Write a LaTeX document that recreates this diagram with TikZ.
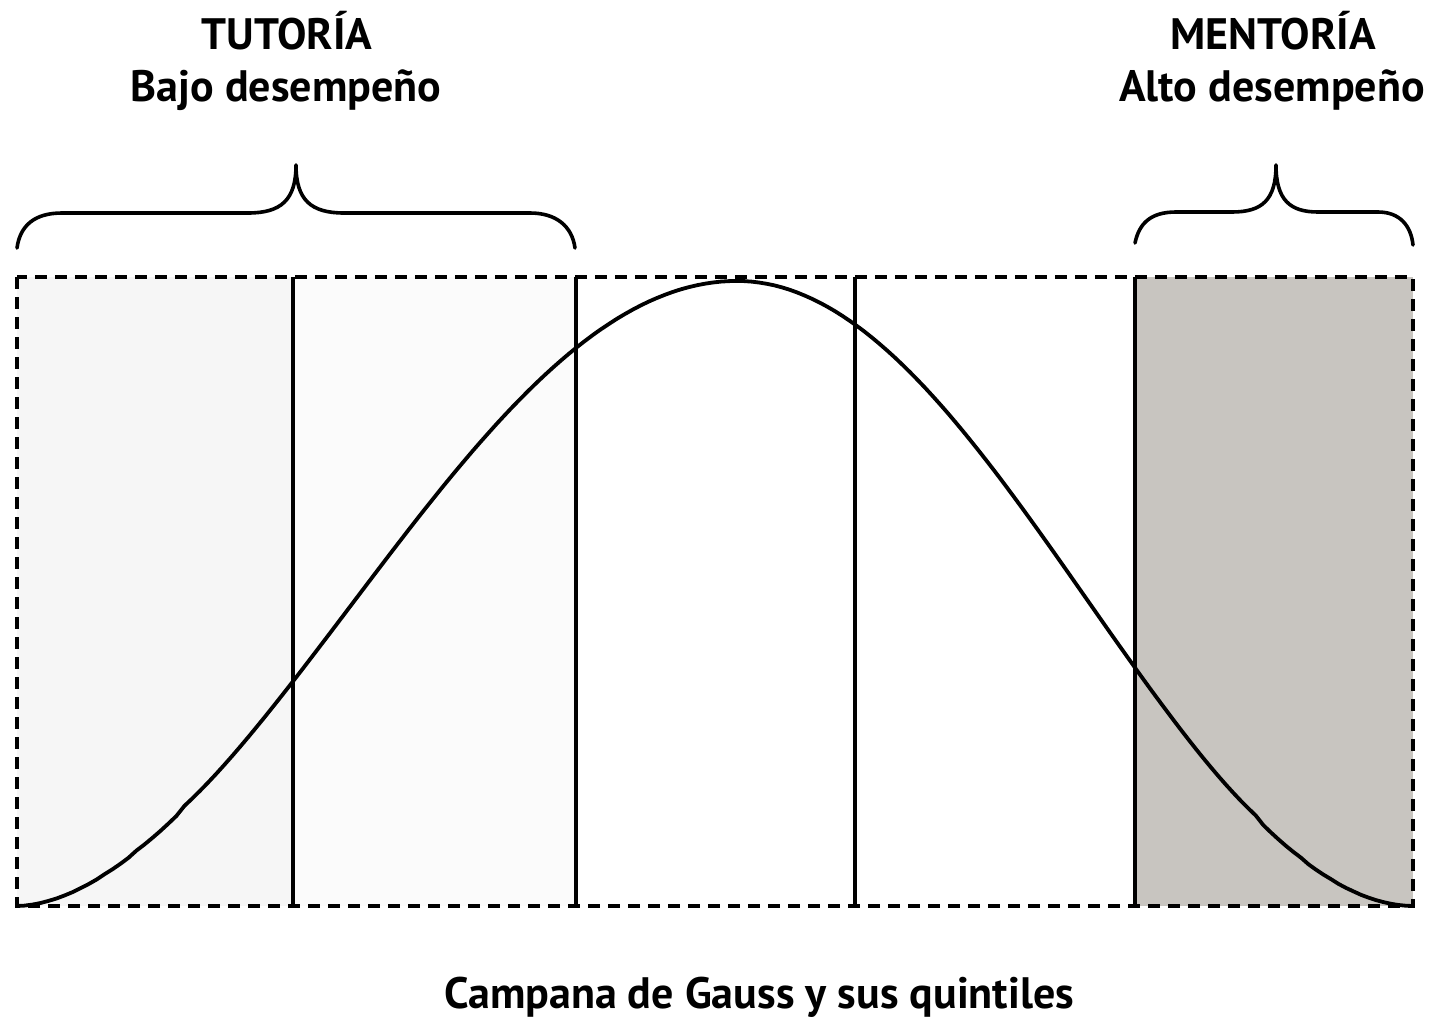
\documentclass[tikz,border=0pt]{standalone}
\usepackage{fontspec}
\setmainfont{PT Sans}
\definecolor{qone}{HTML}{F6F6F6}
\definecolor{qtwo}{HTML}{FBFBFB}
\definecolor{qfive}{HTML}{C8C5C0}
\tikzset{
  frame/.style={line width=4.2pt, dash pattern=on 12pt off 8pt},
  qline/.style={line width=3.6pt},
  bell/.style={line width=3.8pt, line cap=round, line join=round},
  brace/.style={line width=3.6pt, line cap=round, line join=round},
  title/.style={font=\fontsize{44}{48}\selectfont\bfseries, anchor=base, inner sep=0pt},
}
\begin{document}
\begin{tikzpicture}[x=1pt,y=-1pt]
\useasboundingbox (0,0) rectangle (1431,1020);
% coordinates
\coordinate (tl) at (17,277);
\coordinate (br) at (1413,906);
\coordinate (peak) at (737,281);
% fills
\fill[qone] (17,277) rectangle (293,906);
\fill[qtwo] (293,277) rectangle (576,906);
\fill[qfive] (1135,277) rectangle (1413,906);
% quintile lines
\foreach \x/\n in {293/a,576/b,855/c,1135/d}{
  \coordinate (q\n top) at (\x,277);
  \coordinate (q\n bot) at (\x,906);
  \draw[qline] (q\n top) -- (q\n bot);
}
% frame
\draw[frame] (tl) rectangle (br);
% bell curve
\draw[bell] (17,906)
  -- plot[domain=-0.99:0, samples=90, variable=\u]
     ({737+720*\u},{906-625*pow(max((1+cos(180*\u))/2,0.0001),0.9)})
  -- plot[domain=0:0.99, samples=90, variable=\u]
     ({737+676*\u},{906-625*pow(max((1+cos(180*\u))/2,0.0001),0.95)})
  -- (1413,906);
% left brace
\coordinate (lbL) at (17,248);
\coordinate (lbT) at (296,165);
\coordinate (lbR) at (575,248);
\draw[brace] (lbL) .. controls (20,226) and (34,213) .. (62,213)
  -- (248,213) .. controls (281,213) and (296,200) .. (lbT)
  .. controls (296,200) and (311,213) .. (344,213)
  -- (530,213) .. controls (556,213) and (572,226) .. (lbR);
% right brace
\coordinate (rbL) at (1135,243);
\coordinate (rbT) at (1276,165);
\coordinate (rbR) at (1413,245);
\draw[brace] (rbL) .. controls (1139,224) and (1150,212) .. (1176,212)
  -- (1232,212) .. controls (1262,212) and (1276,200) .. (rbT)
  .. controls (1276,200) and (1290,212) .. (1318,212)
  -- (1378,212) .. controls (1400,212) and (1411,226) .. (rbR);
% texts
\node[title] (tut) at (287,49) {TUTORÍA};
\node[title] (bajo) at (286,101) {Bajo desempeño};
\node[title] (men) at (1273,49) {MENTORÍA};
\node[title] (alto) at (1272,101) {Alto desempeño};
\node[title] (cap) at (759,1008) {Campana de Gauss y sus quintiles};
\end{tikzpicture}
\end{document}
